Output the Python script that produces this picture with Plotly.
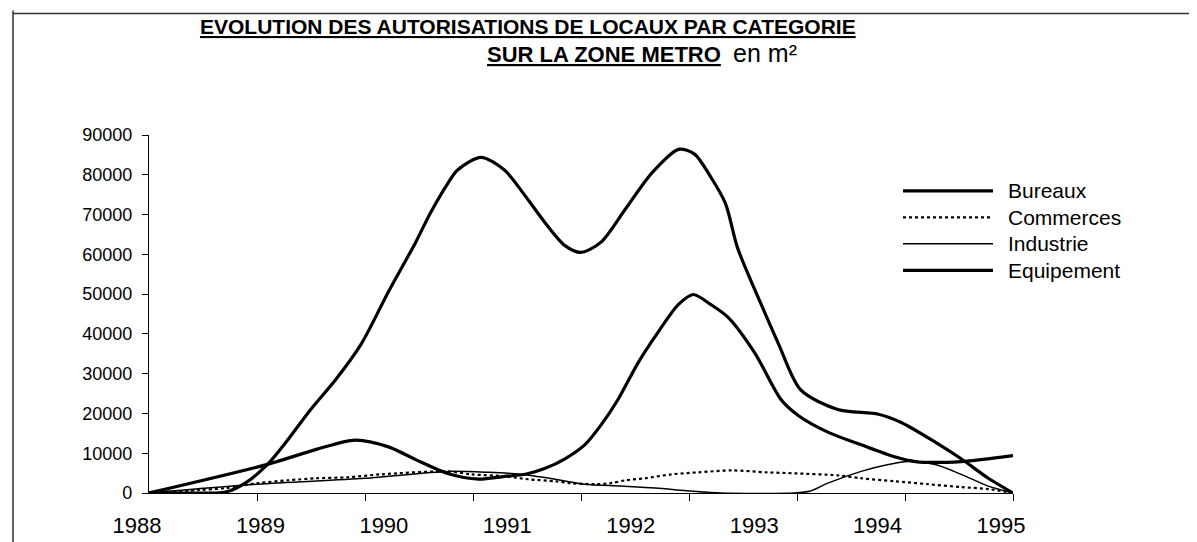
import plotly.graph_objects as go

# Autorisations de locaux par catégorie (m²), lecture du graphique scanné
bureaux_annee = [1988.0, 1988.4, 1988.62, 1988.78, 1988.96, 1989.13, 1989.31, 1989.51, 1989.72, 1989.94,
                 1990.16, 1990.28, 1990.42, 1990.5, 1990.69, 1990.88, 1991.05, 1991.21, 1991.37, 1991.5,
                 1991.66, 1991.86, 1992.07, 1992.29, 1992.42, 1992.55, 1992.67, 1992.77, 1992.96, 1993.1,
                 1993.28, 1993.58, 1993.91, 1994.09, 1994.37, 1994.58, 1994.8, 1995.0]
bureaux_m2 = [0, 0, 250, 2500, 7200, 13600, 21000, 28400, 37500, 50600,
              63000, 70400, 77800, 81200, 84400, 81200, 74600, 67900, 62200, 60500,
              63000, 71400, 80300, 86400, 85200, 79500, 72800, 61500, 47400, 37500,
              25900, 21000, 19800, 17800, 12800, 8600, 3700, 0]

commerces_annee = [1988.0, 1988.4, 1988.62, 1988.88, 1989.13, 1989.35, 1989.61, 1989.88, 1990.42, 1990.61,
                   1990.88, 1991.07, 1991.29, 1991.42, 1991.61, 1991.74, 1991.86, 1992.02, 1992.23, 1992.45,
                   1992.72, 1993.01, 1993.23, 1993.58, 1993.77, 1994.04, 1994.31, 1994.58, 1994.8, 1995.0]
commerces_m2 = [0, 740, 1230, 2470, 3200, 3700, 3950, 4690, 5430, 4690,
                4200, 3460, 2960, 2470, 2220, 2470, 3200, 3700, 4690, 5190,
                5680, 5190, 4940, 4440, 3700, 2960, 2220, 1480, 990, 0]

industrie_annee = [1988.0, 1988.88, 1989.75, 1990.42, 1990.75, 1991.01, 1991.29, 1991.53, 1991.82, 1992.1,
                   1992.39, 1992.63, 1993.23, 1993.36, 1993.5, 1993.77, 1993.99, 1994.15, 1994.37, 1994.58,
                   1994.8, 1995.0]
industrie_m2 = [0, 2220, 3700, 5430, 5190, 4690, 3460, 2220, 1730, 1230,
                490, 0, 0, 490, 2470, 5430, 7160, 7900, 7160, 4690,
                1730, 0]

equipement_annee = [1988.0, 1988.96, 1989.35, 1989.67, 1989.94, 1990.16, 1990.42, 1990.67, 1990.88, 1991.05,
                    1991.21, 1991.37, 1991.53, 1991.66, 1991.8, 1991.96, 1992.1, 1992.29, 1992.41, 1992.55,
                    1992.69, 1992.91, 1993.12, 1993.26, 1993.5, 1993.77, 1994.04, 1994.21, 1994.58, 1995.0]
equipement_m2 = [0, 7200, 10900, 13300, 11600, 8400, 4900, 3500, 4200, 4700,
                 6200, 8600, 12100, 17000, 23500, 32600, 39300, 47400, 49900, 47400,
                 44200, 35100, 23500, 19500, 15300, 12100, 9100, 7900, 7900, 9400]

annees = [1988, 1989, 1990, 1991, 1992, 1993, 1994, 1995]
graduations_y = [0, 10000, 20000, 30000, 40000, 50000, 60000, 70000, 80000, 90000]

noms = ["Bureaux", "Commerces", "Industrie", "Equipement"]
epaisseurs = [3.2, 2.2, 1.5, 3.2]
tirets = ["solid", "dot", "solid", "solid"]

series = [(bureaux_annee, bureaux_m2), (commerces_annee, commerces_m2),
          (industrie_annee, industrie_m2), (equipement_annee, equipement_m2)]

police = "Liberation Sans, Arial, sans-serif"

fig = go.Figure()
for (xs, ys), nom, ep, ti in zip(series, noms, epaisseurs, tirets):
    fig.add_trace(go.Scatter(x=xs, y=ys, name=nom, mode="lines",
                             line=dict(color="black", width=ep, dash=ti, shape="spline", smoothing=0.8),
                             showlegend=False))

# légende dessinée à la main (traits longs comme dans l'original)
L, T, W, H = 141, 127, 864, 365
def px_x(p):
    return (p - L) / W
def px_y(q):
    return (T + H - q) / H

legende_y = [184, 211, 238, 265]
for nom, ep, ti, yy in zip(noms, epaisseurs, tirets, legende_y):
    fig.add_shape(type="line", xref="paper", yref="paper", x0=px_x(895), x1=px_x(985), y0=px_y(yy), y1=px_y(yy),
                  line=dict(color="black", width=ep, dash=ti))
    fig.add_annotation(text=nom, xref="paper", yref="paper", x=px_x(998), y=px_y(yy), xanchor="left",
                       yanchor="middle", showarrow=False, font=dict(family=police, size=21, color="black"))

# titre
fig.add_annotation(text="<b><span style='text-decoration:underline'>EVOLUTION DES AUTORISATIONS DE LOCAUX PAR CATEGORIE</span></b>",
                   xref="paper", yref="paper", x=px_x(520), y=px_y(16), xanchor="center", yanchor="middle",
                   showarrow=False, font=dict(family=police, size=21, color="black"))
fig.add_annotation(text="<b><span style='text-decoration:underline'>SUR LA ZONE METRO</span></b>  <span style='font-size:25px'>en m²</span>",
                   xref="paper", yref="paper", x=px_x(634), y=px_y(43), xanchor="center", yanchor="middle",
                   showarrow=False, font=dict(family=police, size=22, color="black"))

# cadre scanné (bord gauche et haut)
fig.add_shape(type="line", xref="paper", yref="paper", x0=px_x(5), x1=px_x(5), y0=px_y(0), y1=px_y(542),
              line=dict(color="#333333", width=1.5))
fig.add_shape(type="line", xref="paper", yref="paper", x0=px_x(5), x1=px_x(1197), y0=px_y(3), y1=px_y(3),
              line=dict(color="#333333", width=1.5))

fig.update_layout(
    width=1197, height=542,
    margin=dict(l=L, r=1197 - L - W, t=T, b=542 - T - H),
    paper_bgcolor="white", plot_bgcolor="white",
    font=dict(family=police, color="black"),
    xaxis=dict(range=[1988, 1995], tickvals=annees, ticktext=[str(a) for a in annees], ticks="",
               showline=True, linecolor="black", linewidth=1.2, showgrid=False, zeroline=False,
               tickfont=dict(size=22), ticklabelshift=-12, ticklabelstandoff=12,
               minor=dict(tickvals=[1988 + k * 7 / 8 for k in range(1, 9)], ticks="outside",
                          ticklen=7, tickcolor="black", tickwidth=1.2, showgrid=False)),
    yaxis=dict(range=[0, 90000], tickvals=graduations_y, tickformat="d", ticks="outside", ticklen=6,
               tickcolor="black", showline=True, linecolor="black", linewidth=1.2, showgrid=False,
               zeroline=False, tickfont=dict(size=18), ticklabelstandoff=6),
)

fig.write_html("out.html")
